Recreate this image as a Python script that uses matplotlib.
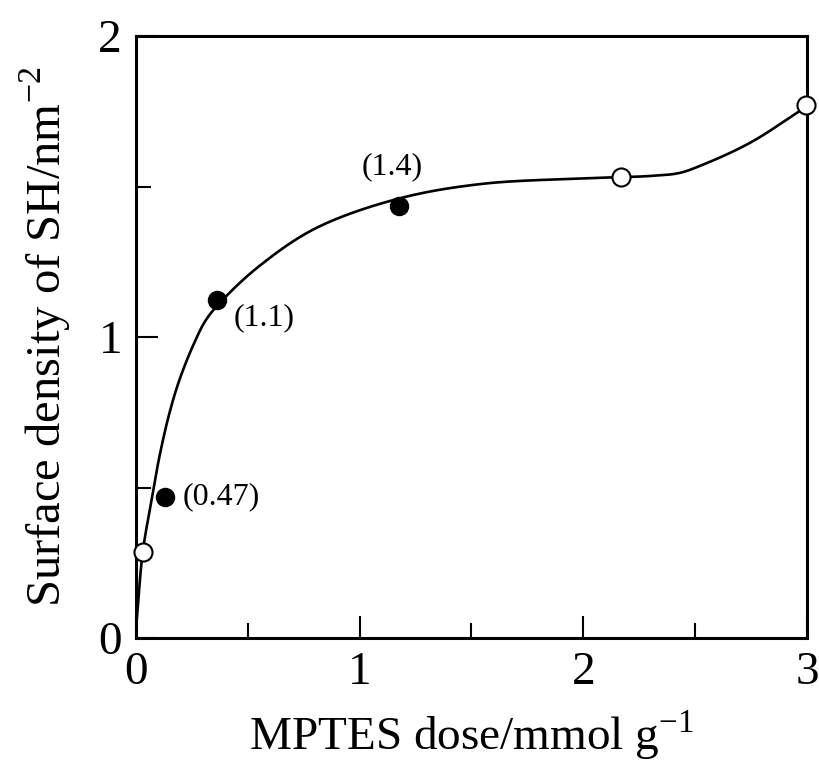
import matplotlib
matplotlib.use("Agg")
import numpy as np
import matplotlib.pyplot as plt
from matplotlib.ticker import MultipleLocator

plt.rcParams['font.family'] = ['Liberation Serif', 'DejaVu Serif']
plt.rcParams['mathtext.fontset'] = 'custom'
plt.rcParams['mathtext.rm'] = 'Liberation Serif'

# fitted curve (points along the drawn line)
curve_x = [0.003, 0.03, 0.072, 0.104, 0.149, 0.194, 0.253, 0.313, 0.387, 0.55,
           0.8, 1.165, 1.538, 2.0, 2.3, 2.43, 2.52, 2.745, 2.99]
curve_y = [0.057, 0.285, 0.468, 0.60, 0.746, 0.857, 0.968, 1.057, 1.123, 1.235,
           1.36, 1.458, 1.508, 1.527, 1.535, 1.545, 1.568, 1.645, 1.762]

# open circles
open_x = [0.03, 2.17, 2.995]
open_y = [0.285, 1.533, 1.77]

# filled circles with labels
filled_x = [0.13, 0.364, 1.177]
filled_y = [0.468, 1.123, 1.434]
filled_labels = ["(0.47)", "(1.1)", "(1.4)"]

x_ticks = [0, 1, 2, 3]
y_ticks = [0, 1, 2]


def catmull_rom(x, y, sx=1.0, sy=1.0, n_seg=40, alpha=0.5):
    """Centripetal Catmull-Rom rendering through the read points (in a scaled space)."""
    P = np.column_stack([np.asarray(x, float) * sx, np.asarray(y, float) * sy])
    P = np.vstack([2 * P[0] - P[1], P, 2 * P[-1] - P[-2]])
    out = []
    for i in range(1, len(P) - 2):
        p0, p1, p2, p3 = P[i - 1], P[i], P[i + 1], P[i + 2]
        t0 = 0.0
        t1 = t0 + np.linalg.norm(p1 - p0) ** alpha
        t2 = t1 + np.linalg.norm(p2 - p1) ** alpha
        t3 = t2 + np.linalg.norm(p3 - p2) ** alpha
        t = np.linspace(t1, t2, n_seg)[:, None]
        A1 = (t1 - t) / (t1 - t0) * p0 + (t - t0) / (t1 - t0) * p1
        A2 = (t2 - t) / (t2 - t1) * p1 + (t - t1) / (t2 - t1) * p2
        A3 = (t3 - t) / (t3 - t2) * p2 + (t - t2) / (t3 - t2) * p3
        B1 = (t2 - t) / (t2 - t0) * A1 + (t - t0) / (t2 - t0) * A2
        B2 = (t3 - t) / (t3 - t1) * A2 + (t - t1) / (t3 - t1) * A3
        C = (t2 - t) / (t2 - t1) * B1 + (t - t1) / (t2 - t1) * B2
        out.append(C if i == 1 else C[1:])
    C = np.vstack(out)
    return C[:, 0] / sx, C[:, 1] / sy


fig = plt.figure(figsize=(8.2, 7.68), dpi=100)
ax = fig.add_axes([136/820, 1-638/768, (807-136)/820, (638-36)/768])

cx, cy = catmull_rom(curve_x, curve_y, sx=223.7, sy=300.0)
ax.plot(cx, cy, color='black', lw=1.9, zorder=2, clip_on=False)
ax.plot(open_x, open_y, 'o', ms=13, mfc='white', mec='black', mew=1.5, zorder=3, clip_on=False)
ax.plot(filled_x, filled_y, 'o', ms=13, mfc='black', mec='black', zorder=3, clip_on=False)

offsets = [((18, 0), 'left', 'center'), ((16, -18), 'left', 'center'), ((-7, 40), 'center', 'center')]
for x, y, lab, (off, ha, va) in zip(filled_x, filled_y, filled_labels, offsets):
    ax.annotate(lab, (x, y), xytext=(off[0]*0.72, off[1]*0.72), textcoords='offset points',
                ha=ha, va=va, fontsize=23)

ax.set_xlim(0, 3)
ax.set_ylim(0, 2)
ax.set_xticks(x_ticks)
ax.set_yticks(y_ticks)
ax.xaxis.set_minor_locator(MultipleLocator(0.5))
ax.yaxis.set_minor_locator(MultipleLocator(0.5))
ax.tick_params(which='both', direction='in', width=1.5, labelsize=34, top=False, right=False)
ax.tick_params(which='major', length=16, pad=10)
ax.tick_params(which='minor', length=11)
for s in ax.spines.values():
    s.set_linewidth(2.2)

ax.set_xlabel('MPTES dose/mmol g$^{\\mathregular{-1}}$', fontsize=34, labelpad=10)
ax.set_ylabel('Surface density of SH/nm$^{\\mathregular{-2}}$', fontsize=35, labelpad=18)

fig.savefig('out.png', dpi=100)
